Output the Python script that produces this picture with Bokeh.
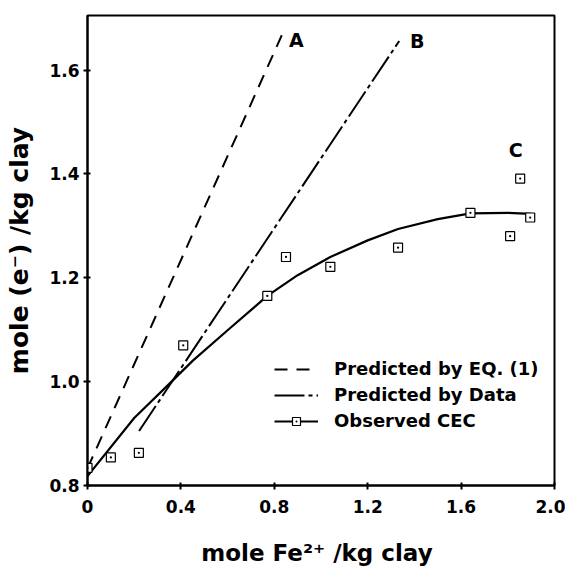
from bokeh.plotting import figure
from bokeh.models import FixedTicker, Legend, LegendItem, Range1d
from bokeh.core.properties import value
from bokeh.embed import file_html
from bokeh.resources import INLINE

# ---- data ----
obs_x = [0.0, 0.10, 0.22, 0.41, 0.77, 0.85, 1.04, 1.33, 1.64, 1.81, 1.853, 1.896]
obs_y = [0.834, 0.854, 0.863, 1.070, 1.165, 1.240, 1.221, 1.258, 1.325, 1.280, 1.391, 1.316]

fit_x = [0.0, 0.2, 0.36, 0.45, 0.6, 0.77, 0.9, 1.04, 1.2, 1.33, 1.5, 1.64, 1.8, 1.9]
fit_y = [0.818, 0.93, 1.00, 1.04, 1.099, 1.165, 1.205, 1.24, 1.272, 1.294, 1.313, 1.324, 1.325, 1.323]

eq_x = [0.0, 0.832]
eq_y = [0.833, 1.667]

data_x = [0.221, 1.335]
data_y = [0.905, 1.656]

curve_labels = ["A", "B", "C"]
curve_label_x = [0.863, 1.381, 1.804]
curve_label_y = [1.658, 1.656, 1.446]

x_ticks = [0.0, 0.4, 0.8, 1.2, 1.6, 2.0]
x_tick_labels = ["0", "0.4", "0.8", "1.2", "1.6", "2.0"]
y_ticks = [0.8, 1.0, 1.2, 1.4, 1.6]
y_tick_labels = ["0.8", "1.0", "1.2", "1.4", "1.6"]

legend_labels = ["Predicted by EQ. (1)", "Predicted by Data", "Observed CEC"]

FONT = "DejaVu Sans"

p = figure(width=565, height=570, output_backend="svg", toolbar_location=None,
           x_range=Range1d(0, 2.0), y_range=Range1d(0.8, 1.705),
           min_border_left=87, min_border_right=11, min_border_top=15, min_border_bottom=85,
           background_fill_color="white", border_fill_color="white")

p.xgrid.visible = False
p.ygrid.visible = False
p.outline_line_color = "black"
p.outline_line_width = 2

for ax, ticks, labels in ((p.xaxis[0], x_ticks, x_tick_labels), (p.yaxis[0], y_ticks, y_tick_labels)):
    ax.ticker = FixedTicker(ticks=ticks)
    ax.major_label_overrides = dict(zip(ticks, labels))
    ax.axis_line_width = 2
    ax.major_tick_line_width = 2
    ax.major_tick_in = 3
    ax.major_tick_out = 4
    ax.minor_tick_line_color = None
    ax.major_label_text_font = FONT
    ax.major_label_text_font_style = "bold"
    ax.major_label_text_font_size = "17px"
    ax.major_label_text_color = "black"
    ax.axis_label_text_font = FONT
    ax.axis_label_text_font_style = "bold"
    ax.axis_label_text_color = "black"

p.xaxis.axis_label = "mole  Fe\u00b2\u207a /kg clay"
p.xaxis.axis_label_text_font_size = "23px"
p.xaxis.major_label_standoff = 10
p.xaxis.axis_label_standoff = 24
p.yaxis.axis_label = "mole (e\u207b) /kg clay"
p.yaxis.axis_label_text_font_size = "25px"
p.yaxis.major_label_standoff = 4
p.yaxis.axis_label_standoff = 12

r_eq = p.line(eq_x, eq_y, line_color="black", line_width=2, line_dash="13 9")
r_data = p.line(data_x, data_y, line_color="black", line_width=2, line_dash="30 4 4 4")
r_fit = p.line(fit_x, fit_y, line_color="black", line_width=2.2)
r_obs = p.scatter(obs_x, obs_y, marker="square_dot", size=9, line_color="black",
                  line_width=1.2, fill_color="white")

p.text(x=curve_label_x, y=curve_label_y, text=curve_labels,
       text_font=value(FONT), text_font_style="bold", text_font_size="19px",
       text_align="left", text_baseline="middle", text_color="black")

legend = Legend(items=[
    LegendItem(label=legend_labels[0], renderers=[r_eq]),
    LegendItem(label=legend_labels[1], renderers=[r_data]),
    LegendItem(label=legend_labels[2], renderers=[r_fit, r_obs]),
], location=(187, 54), glyph_width=44, glyph_height=20, label_height=20,
   spacing=5, padding=0, margin=0, label_standoff=16,
   border_line_color=None, background_fill_alpha=0,
   label_text_font=FONT, label_text_font_style="bold", label_text_font_size="18px",
   label_text_color="black")
p.add_layout(legend, "center")

open("out.html", "w").write(file_html(p, INLINE))
